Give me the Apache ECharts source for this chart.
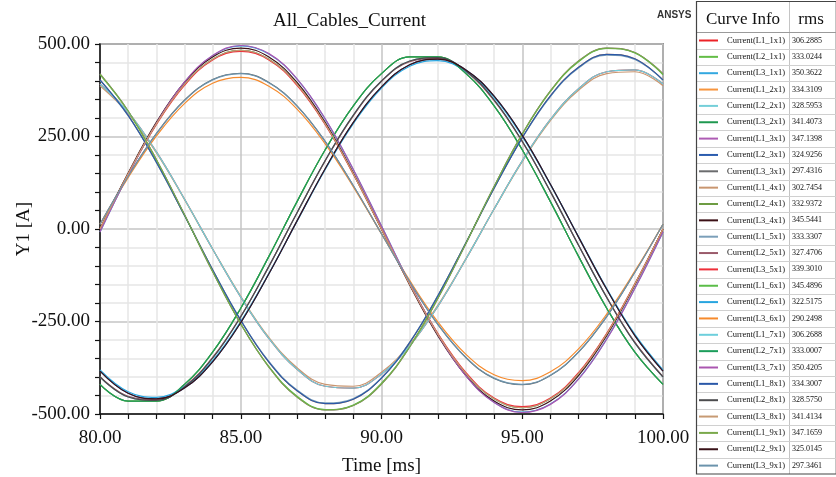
<!DOCTYPE html>
<html>
<head>
<meta charset="utf-8">
<title>All_Cables_Current</title>
<script src="https://cdn.jsdelivr.net/npm/echarts@6/dist/echarts.min.js"></script>
<style>
  html, body { margin: 0; padding: 0; background: #fff; }
  #mychart { width: 836px; height: 477px; }
</style>
</head>
<body>
<div id="mychart"></div>
<script>
// 时间轴 [ms]
const timeMs = [80, 81, 82, 83, 84, 85, 86, 87, 88, 89, 90, 91, 92, 93, 94, 95, 96, 97, 98, 99, 100]

// 电流 [A]，每 1 ms 读一个点
const L1_1x1 = [392, 316, 209, 81, -54, -184, -296, -379, -425, -430, -392, -316, -209, -81, 54, 184, 296, 379, 425, 430, 392]
const L2_1x1 = [-420, -465, -465, -420, -333, -214, -74, 74, 214, 333, 420, 465, 465, 420, 333, 214, 74, -74, -214, -333, -420]
const L3_1x1 = [-8, 146, 285, 396, 468, 495, 473, 405, 297, 160, 8, -146, -285, -396, -468, -495, -473, -405, -297, -160, -8]
const L1_2x1 = [403, 307, 181, 37, -110, -247, -360, -437, -472, -460, -403, -307, -181, -37, 110, 247, 360, 437, 472, 460, 403]
const L2_2x1 = [-400, -454, -463, -427, -349, -237, -101, 44, 185, 308, 400, 454, 463, 427, 349, 237, 101, -44, -185, -308, -400]
const L3_2x1 = [0, 149, 284, 391, 459, 483, 459, 391, 284, 149, 0, -149, -284, -391, -459, -483, -459, -391, -284, -149, 0]
const L1_3x1 = [419, 319, 188, 39, -115, -257, -373, -454, -489, -477, -419, -319, -188, -39, 115, 257, 373, 454, 489, 477, 419]
const L2_3x1 = [-384, -444, -459, -430, -359, -253, -121, 22, 163, 288, 384, 444, 459, 430, 359, 253, 121, -22, -163, -288, -384]
const L3_3x1 = [13, 143, 258, 348, 404, 421, 396, 333, 237, 117, -13, -143, -258, -348, -404, -421, -396, -333, -237, -117, 13]
const L1_4x1 = [387, 312, 206, 80, -54, -182, -293, -375, -420, -425, -387, -312, -206, -80, 54, 182, 293, 375, 420, 425, 387]
const L2_4x1 = [-420, -465, -465, -420, -333, -214, -74, 74, 214, 333, 420, 465, 465, 420, 333, 214, 74, -74, -214, -333, -420]
const L3_4x1 = [0, 151, 288, 396, 465, 489, 465, 396, 288, 151, 0, -151, -288, -396, -465, -489, -465, -396, -288, -151, 0]
const L1_5x1 = [402, 306, 180, 37, -110, -246, -358, -435, -470, -458, -402, -306, -180, -37, 110, 246, 358, 435, 470, 458, 402]
const L2_5x1 = [-399, -452, -461, -425, -347, -236, -101, 44, 184, 306, 399, 452, 461, 425, 347, 236, 101, -44, -184, -306, -399]
const L3_5x1 = [0, 148, 282, 388, 457, 480, 457, 388, 282, 148, 0, -148, -282, -388, -457, -480, -457, -388, -282, -148, 0]
const L1_6x1 = [417, 318, 187, 38, -114, -256, -372, -452, -488, -476, -417, -318, -187, -38, 114, 256, 372, 452, 488, 476, 417]
const L2_6x1 = [-381, -440, -455, -426, -356, -250, -120, 21, 161, 285, 381, 440, 455, 426, 356, 250, 120, -21, -161, -285, -381]
const L3_6x1 = [13, 139, 251, 339, 394, 410, 386, 324, 230, 114, -13, -139, -251, -339, -394, -410, -386, -324, -230, -114, 13]
const L1_7x1 = [392, 316, 209, 81, -54, -184, -296, -379, -425, -430, -392, -316, -209, -81, 54, 184, 296, 379, 425, 430, 392]
const L2_7x1 = [-420, -465, -465, -420, -333, -214, -74, 74, 214, 333, 420, 465, 465, 420, 333, 214, 74, -74, -214, -333, -420]
const L3_7x1 = [-8, 146, 285, 397, 469, 496, 474, 406, 298, 161, 8, -146, -285, -397, -469, -496, -474, -406, -298, -161, -8]
const L1_8x1 = [403, 307, 181, 37, -110, -247, -360, -437, -472, -460, -403, -307, -181, -37, 110, 247, 360, 437, 472, 460, 403]
const L2_8x1 = [-400, -454, -463, -427, -349, -237, -101, 44, 185, 308, 400, 454, 463, 427, 349, 237, 101, -44, -185, -308, -400]
const L3_8x1 = [0, 149, 284, 391, 459, 483, 459, 391, 284, 149, 0, -149, -284, -391, -459, -483, -459, -391, -284, -149, 0]
const L1_9x1 = [419, 319, 188, 39, -115, -257, -373, -454, -489, -477, -419, -319, -188, -39, 115, 257, 373, 454, 489, 477, 419]
const L2_9x1 = [-384, -444, -459, -430, -359, -253, -121, 22, 163, 288, 384, 444, 459, 430, 359, 253, 121, -22, -163, -288, -384]
const L3_9x1 = [13, 142, 257, 347, 403, 420, 395, 332, 236, 117, -13, -142, -257, -347, -403, -420, -395, -332, -236, -117, 13]

const curveNames = [
  'Current(L1_1x1)', 'Current(L2_1x1)', 'Current(L3_1x1)',
  'Current(L1_2x1)', 'Current(L2_2x1)', 'Current(L3_2x1)',
  'Current(L1_3x1)', 'Current(L2_3x1)', 'Current(L3_3x1)',
  'Current(L1_4x1)', 'Current(L2_4x1)', 'Current(L3_4x1)',
  'Current(L1_5x1)', 'Current(L2_5x1)', 'Current(L3_5x1)',
  'Current(L1_6x1)', 'Current(L2_6x1)', 'Current(L3_6x1)',
  'Current(L1_7x1)', 'Current(L2_7x1)', 'Current(L3_7x1)',
  'Current(L1_8x1)', 'Current(L2_8x1)', 'Current(L3_8x1)',
  'Current(L1_9x1)', 'Current(L2_9x1)', 'Current(L3_9x1)'
]
const curveValues = [
  L1_1x1, L2_1x1, L3_1x1, L1_2x1, L2_2x1, L3_2x1, L1_3x1, L2_3x1, L3_3x1,
  L1_4x1, L2_4x1, L3_4x1, L1_5x1, L2_5x1, L3_5x1, L1_6x1, L2_6x1, L3_6x1,
  L1_7x1, L2_7x1, L3_7x1, L1_8x1, L2_8x1, L3_8x1, L1_9x1, L2_9x1, L3_9x1
]
const rmsValues = [
  '306.2885', '333.0244', '350.3622', '334.3109', '328.5953', '341.4073',
  '347.1398', '324.9256', '297.4316', '302.7454', '332.9372', '345.5441',
  '333.3307', '327.4706', '339.3010', '345.4896', '322.5175', '290.2498',
  '306.2688', '333.0007', '350.4205', '334.3007', '328.5750', '341.4134',
  '347.1659', '325.0145', '297.3461'
]
const yTicks = [-500, -250, 0, 250, 500]

// 曲线颜色
const curveColors = [
  '#ec2227', '#63bd46', '#33a8e0', '#f7953e', '#74cfd9', '#1f9850',
  '#ae5cb4', '#2b5cae', '#6b6c6e', '#c99670', '#6d9c43', '#3c1016',
  '#7b9fb9', '#9a5a6a', '#ee2f3a', '#5bbd48', '#28a5df', '#f68a2c',
  '#6dcfdc', '#1c9d5b', '#aa56b0', '#2a58a8', '#4c4c4e', '#c79a73',
  '#7aa94b', '#391218', '#6b93ac'
]

const serif = 'Liberation Serif'
let myChart = null

// 右侧 Curve Info 表格的框线
function tableGraphics() {
  const rowTop = 32.3
  const rowH = 16.36
  const x0 = 696.5, x1 = 789.5, x2 = 835.5
  const yEnd = rowTop + rowH * curveNames.length
  let g = [
    { type: 'text', x: 657, y: 10, style: { text: 'ANSYS', font: 'bold 10px "Liberation Sans"', fill: '#333' } },
    { type: 'text', x: 743, y: 20, style: { text: 'Curve Info', font: '17px "Liberation Serif"', fill: '#111', align: 'center', verticalAlign: 'middle' } },
    { type: 'text', x: 811, y: 20, style: { text: 'rms', font: '17px "Liberation Serif"', fill: '#111', align: 'center', verticalAlign: 'middle' } },
    { type: 'line', shape: { x1: x1, y1: 1.5, x2: x1, y2: yEnd }, style: { stroke: '#c4c4c4', lineWidth: 1 } },
    { type: 'line', shape: { x1: x2, y1: 1.5, x2: x2, y2: yEnd }, style: { stroke: '#c4c4c4', lineWidth: 1 } }
  ]
  for (let i = 0; i < curveNames.length; i++) {
    const y = Math.round(rowTop + rowH * i) + 0.5
    g.push({ type: 'line', shape: { x1: x0, y1: y, x2: 840, y2: y }, style: { stroke: i === 0 ? '#9a9a9a' : '#d0d0d0', lineWidth: 1 } })
  }
  g.push({ type: 'rect', shape: { x: x0, y: 1.5, width: 150, height: yEnd - 1.5 }, style: { fill: 'none', stroke: '#444', lineWidth: 1.2 } })
  return g
}

function initEcharts() {
  myChart = echarts.init(document.querySelector('#mychart'))
  myChart.setOption({
    animation: false,
    title: {
      text: 'All_Cables_Current',
      left: 273,
      top: 12,
      padding: 0,
      textStyle: { fontFamily: serif, fontSize: 19, fontWeight: 'normal', color: '#111' }
    },
    legend: {
      orient: 'vertical',
      left: 699,
      top: 36,
      padding: 0,
      itemGap: 7.35,
      itemWidth: 19,
      itemHeight: 2,
      icon: 'rect',
      selectedMode: false,
      data: curveNames,
      formatter: function (name) {
        return '{n|' + name + '}{r|' + rmsValues[curveNames.indexOf(name)] + '}'
      },
      textStyle: {
        fontFamily: serif,
        color: '#111',
        rich: {
          n: { fontFamily: serif, fontSize: 8.5, width: 61, padding: [0, 0, 0, 4], color: '#111' },
          r: { fontFamily: serif, fontSize: 8, padding: [0, 0, 0, 4], color: '#111' }
        }
      }
    },
    grid: {
      left: 100,
      right: 173,
      top: 44,
      bottom: 63,
      show: true,
      borderColor: '#444',
      borderWidth: 1.5,
      containLabel: false,
      outerBoundsMode: 'none'
    },
    xAxis: {
      type: 'value',
      min: 80,
      max: 100,
      interval: 5,
      name: 'Time [ms]',
      nameLocation: 'middle',
      nameGap: 43,
      nameMoveOverlap: false,
      nameTextStyle: { fontFamily: serif, fontSize: 19, color: '#111' },
      axisLine: { onZero: false, lineStyle: { color: '#111', width: 1.5 } },
      axisTick: { length: 5, lineStyle: { color: '#111', width: 1.2 } },
      minorTick: { show: true, splitNumber: 5, length: 5, lineStyle: { color: '#111', width: 1.2 } },
      axisLabel: {
        margin: 15,
        fontFamily: serif,
        fontSize: 19,
        color: '#111',
        formatter: function (v) { return v.toFixed(2) }
      },
      splitLine: { lineStyle: { color: '#c4c4c4', width: 1.5 } },
      minorSplitLine: { show: true, lineStyle: { color: '#e6e6e6', width: 1.5 } }
    },
    yAxis: {
      type: 'value',
      min: yTicks[0],
      max: yTicks[yTicks.length - 1],
      interval: 250,
      name: 'Y1 [A]',
      nameLocation: 'middle',
      nameGap: 66,
      nameMoveOverlap: false,
      nameTextStyle: { fontFamily: serif, fontSize: 19, color: '#111' },
      axisLine: { show: true, onZero: false, lineStyle: { color: '#111', width: 1.5 } },
      axisTick: { show: true, length: 5, lineStyle: { color: '#111', width: 1.2 } },
      minorTick: { show: true, splitNumber: 5, length: 5, lineStyle: { color: '#111', width: 1.2 } },
      axisLabel: {
        margin: 10,
        fontFamily: serif,
        fontSize: 19,
        color: '#111',
        formatter: function (v) { return v.toFixed(2) }
      },
      splitLine: { lineStyle: { color: '#c4c4c4', width: 1.5 } },
      minorSplitLine: { show: true, lineStyle: { color: '#e6e6e6', width: 1.5 } }
    },
    graphic: tableGraphics(),
    series: curveNames.map(function (name, i) {
      return {
        name: name,
        type: 'line',
        data: timeMs.map(function (t, k) { return [t, curveValues[i][k]] }),
        showSymbol: false,
        smooth: 0.4,
        silent: true,
        lineStyle: { width: 1.2, color: curveColors[i] },
        itemStyle: { color: curveColors[i] }
      }
    })
  })
}

initEcharts()
</script>
</body>
</html>
